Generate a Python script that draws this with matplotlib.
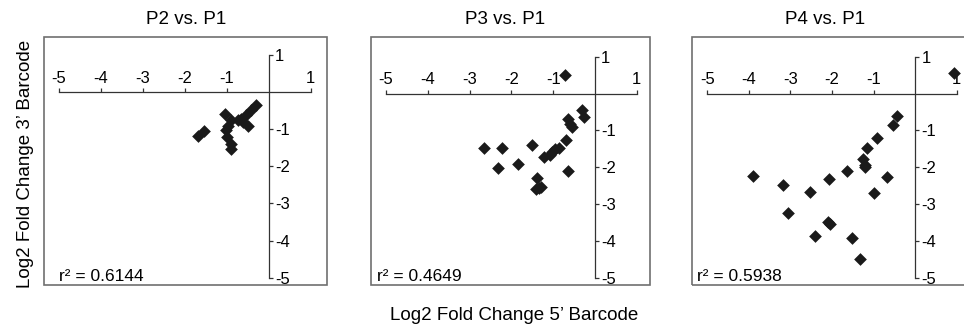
import matplotlib
matplotlib.use("Agg")
import matplotlib.pyplot as plt
from matplotlib.patches import Rectangle

plt.rcParams["font.family"] = ["Liberation Sans", "DejaVu Sans"]
plt.rcParams["axes.unicode_minus"] = False

# data (log2 fold change: 5' barcode on x, 3' barcode on y)
titles = ["P2 vs. P1", "P3 vs. P1", "P4 vs. P1"]
r2_values = ["0.6144", "0.4649", "0.5938"]

p2_x = [-1.68, -1.55, -1.04, -0.90, -0.98, -1.02, -0.99, -0.90, -0.90,
        -0.30, -0.42, -0.54, -0.66, -0.62, -0.50, -0.74]
p2_y = [-1.17, -1.05, -0.58, -0.76, -0.90, -1.03, -1.21, -1.39, -1.53,
        -0.36, -0.49, -0.63, -0.72, -0.81, -0.90, -0.76]

p3_x = [-0.72, -0.30, -0.27, -0.64, -0.60, -0.56, -0.69, -0.86, -0.95, -1.02,
        -1.08, -1.23, -1.51, -2.65, -2.22, -2.31, -1.85, -0.64, -1.39, -1.40,
        -1.28, -1.34]
p3_y = [0.50, -0.45, -0.65, -0.70, -0.82, -0.92, -1.25, -1.47, -1.50, -1.58,
        -1.67, -1.73, -1.40, -1.47, -1.47, -2.03, -1.91, -2.10, -2.29, -2.60,
        -2.53, -2.57]

p4_x = [0.92, -0.45, -0.54, -0.91, -1.17, -1.26, -1.22, -1.21, -1.65, -2.07,
        -2.53, -3.17, -3.89, -3.07, -2.42, -2.05, -2.09, -1.51, -1.32, -0.98,
        -0.69]
p4_y = [0.57, -0.60, -0.86, -1.20, -1.47, -1.79, -1.93, -2.00, -2.09, -2.32,
        -2.67, -2.49, -2.23, -3.24, -3.87, -3.54, -3.50, -3.93, -4.48, -2.69,
        -2.26]

series = [(p2_x, p2_y), (p3_x, p3_y), (p4_x, p4_y)]
x_ticks = [-5, -4, -3, -2, -1, 1]
y_ticks = [1, -1, -2, -3, -4, -5]

W, H = 964, 331
fig = plt.figure(figsize=(W / 100, H / 100), dpi=100)

# panel boxes in pixels (left, right) and axis limits
boxes = [(44, 327), (370.7, 650), (691.7, 966)]
xlims = [(-5.358, 1.389), (-5.366, 1.318), (-5.375, 1.22)]
ylims = [(-5.197, 1.485), (-5.198, 1.535), (-5.198, 1.535)]
title_x = [186, 505, 825]
r2_offset = [15, 6, 5]
box_top, box_bottom = 37, 285

for i, (xs, ys) in enumerate(series):
    left, right = boxes[i]
    ax = fig.add_axes([left / W, 1 - box_bottom / H, (right - left) / W,
                       (box_bottom - box_top) / H])
    ax.set_xlim(*xlims[i])
    ax.set_ylim(*ylims[i])
    ax.patch.set_alpha(0)

    ax.scatter(xs, ys, marker="D", s=42, color="#1a1a1a", linewidths=0, zorder=3)

    # crossing axes through the origin
    for side in ["left", "bottom"]:
        ax.spines[side].set_visible(False)
    ax.spines["top"].set_position(("data", 0))
    ax.spines["right"].set_position(("data", 0))
    ax.spines["top"].set_bounds(-5, 1)
    ax.spines["right"].set_bounds(-5, 1)
    for side in ["top", "right"]:
        ax.spines[side].set_color("#333333")
        ax.spines[side].set_linewidth(0.9)

    ax.xaxis.set_ticks_position("top")
    ax.yaxis.set_ticks_position("right")
    ax.set_xticks(x_ticks)
    ax.set_yticks(y_ticks)
    ax.tick_params(axis="both", direction="out", length=3, width=0.9,
                   color="#333333", labelsize=12, pad=1.5)

    # outer gray frame
    ax.add_patch(Rectangle((0, 0), 1, 1, transform=ax.transAxes, fill=False,
                           edgecolor="#707070", linewidth=1.2, clip_on=False))

    ax.text(r2_offset[i] / (right - left), 0.016, "r\u00b2 = " + r2_values[i],
            transform=ax.transAxes, fontsize=12.5, va="baseline", ha="left")

    fig.text(title_x[i] / W, 1 - 20 / H, titles[i], fontsize=13.5,
             ha="center", va="center")

fig.text(26 / W, 1 - 164 / H, "Log2 Fold Change 3\u2019 Barcode", fontsize=13.5,
         rotation=90, ha="center", va="center")
fig.text(514 / W, 1 - 316 / H, "Log2 Fold Change 5\u2019 Barcode", fontsize=13.5,
         ha="center", va="center")

fig.savefig("out.png", dpi=100)
